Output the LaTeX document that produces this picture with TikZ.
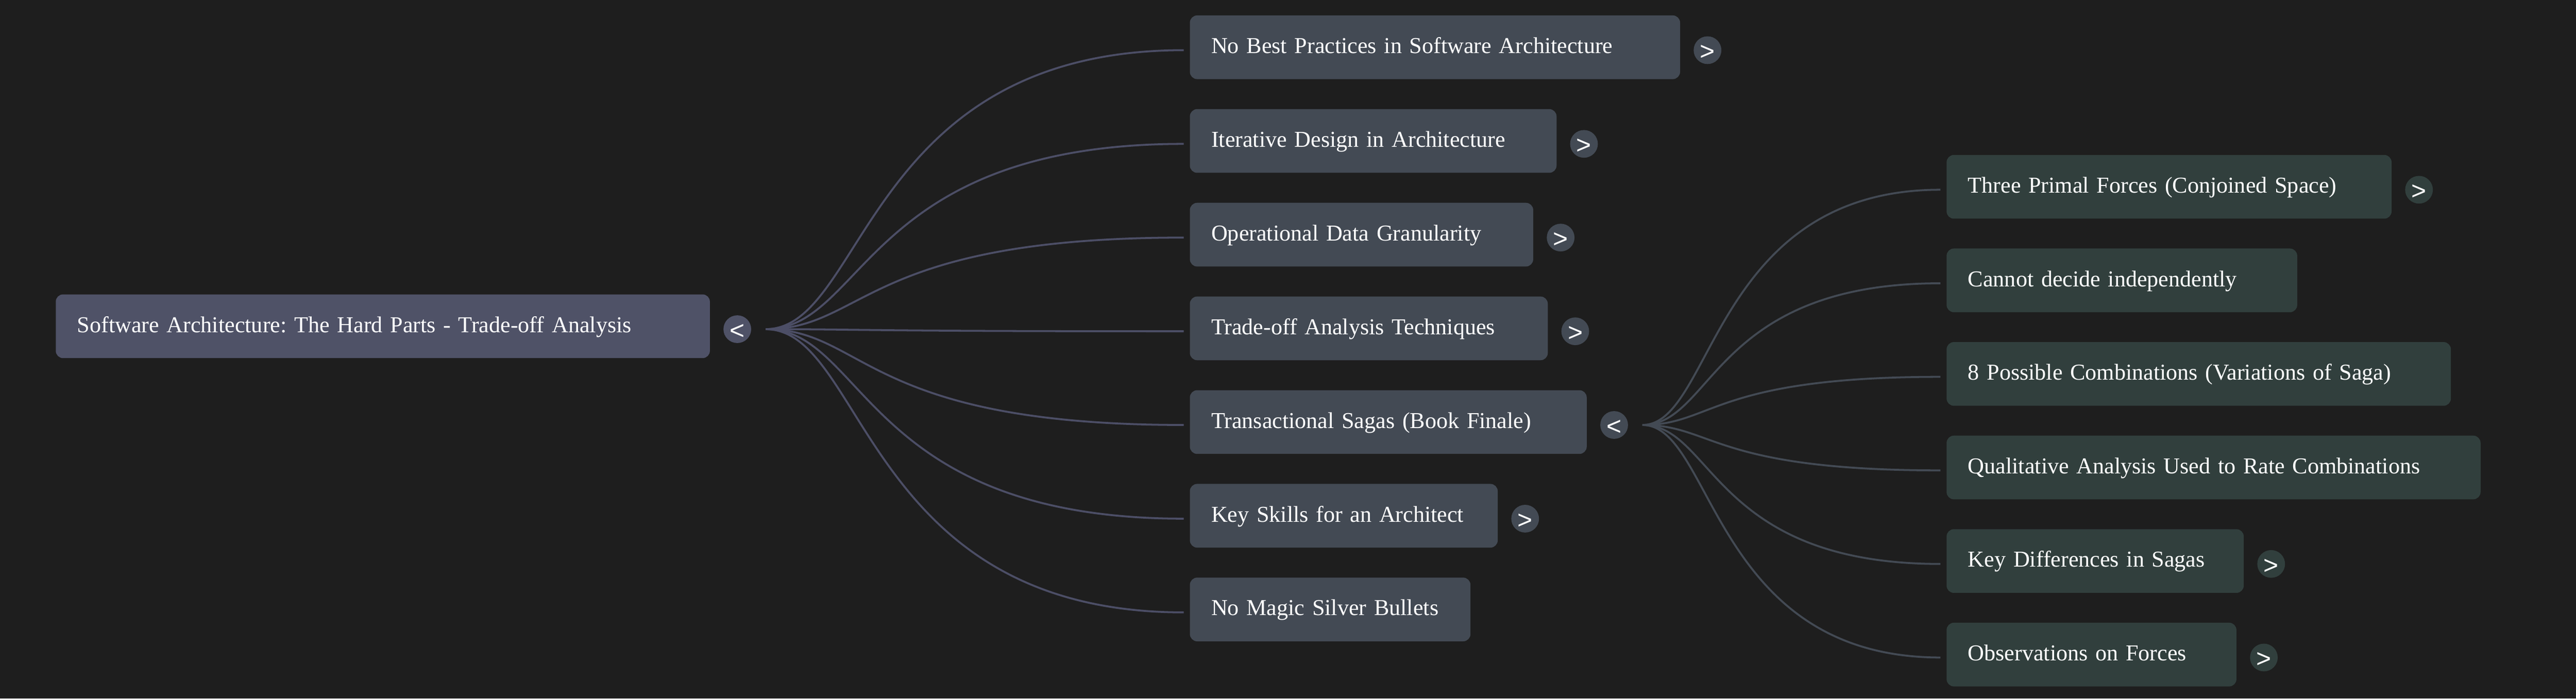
\documentclass[tikz,border=0pt]{standalone}
\usepackage{fontspec}
\setmainfont{Liberation Serif}
\newfontfamily\togfont{Liberation Sans}
\usetikzlibrary{positioning}
\frenchspacing
\definecolor{bgdark}{HTML}{1E1E1E}
\definecolor{rootfill}{HTML}{4F5267}
\definecolor{childfill}{HTML}{434A54}
\definecolor{leaffill}{HTML}{313F3D}
\definecolor{rootedge}{HTML}{4C4E66}
\tikzstyle{block} = [rectangle, rounded corners=0.15cm, text=white,
    font=\fontsize{13.3pt}{16pt}\selectfont, text height=0.25cm, text depth=0cm,
    inner xsep=0.44cm, inner ysep=0cm, minimum height=1.31cm, align=left]
\tikzstyle{rootblock} = [block, fill=rootfill, anchor=west]
\tikzstyle{child} = [block, fill=childfill]
\tikzstyle{leaf} = [block, fill=leaffill]
\tikzstyle{tog} = [circle, text=white, font=\togfont\fontsize{15pt}{15pt}\selectfont,
    inner sep=0pt, minimum size=0.57cm, text height=0.41cm, text depth=0cm, yshift=-0.6mm]
\tikzstyle{link} = [draw=rootedge, line width=0.04cm, shorten >=1.2mm]
\tikzstyle{sublink} = [draw=childfill, line width=0.04cm, shorten >=1.2mm]

\begin{document}
\begin{tikzpicture}
    % Background
    \fill[bgdark] (0,0) rectangle (52.97,-14.37);
    \useasboundingbox (0,0) rectangle (52.97,-14.37);
    % Place nodes
    \node[rootblock, text width=12.57cm] (root) at (1.14,-6.71) {Software Architecture: The Hard Parts - Trade-off Analysis};
    \node[child, anchor=north west, text width=9.20cm] (best) at (24.46,-0.31) {No Best Practices in Software Architecture};
    \node[child, below right=0.603cm and 0cm of best.south west, text width=6.66cm] (iter) {Iterative Design in Architecture};
    \node[child, below right=0.603cm and 0cm of iter.south west, text width=6.18cm] (oper) {Operational Data Granularity};
    \node[child, below right=0.603cm and 0cm of oper.south west, text width=6.48cm] (trade) {Trade-off Analysis Techniques};
    \node[child, below right=0.603cm and 0cm of trade.south west, text width=7.28cm] (sagas) {Transactional Sagas (Book Finale)};
    \node[child, below right=0.603cm and 0cm of sagas.south west, text width=5.45cm] (skills) {Key Skills for an Architect};
    \node[child, below right=0.603cm and 0cm of skills.south west, text width=4.89cm] (magic) {No Magic Silver Bullets};
    \node[leaf, anchor=north west, text width=8.27cm] (forces) at (40.02,-3.18) {Three Primal Forces (Conjoined Space)};
    \node[leaf, below right=0.60cm and 0cm of forces.south west, text width=6.33cm] (indep) {Cannot decide independently};
    \node[leaf, below right=0.60cm and 0cm of indep.south west, text width=9.49cm] (combos) {8 Possible Combinations (Variations of Saga)};
    \node[leaf, below right=0.60cm and 0cm of combos.south west, text width=10.10cm] (rate) {Qualitative Analysis Used to Rate Combinations};
    \node[leaf, below right=0.60cm and 0cm of rate.south west, text width=5.23cm] (diffs) {Key Differences in Sagas};
    \node[leaf, below right=0.60cm and 0cm of diffs.south west, text width=5.08cm] (obs) {Observations on Forces};
    % Toggles
    \node[tog, fill=rootfill, right=0.265cm of root.east] (root-t) {<};
    \node[tog, fill=childfill, right=0.265cm of best.east] (best-t) {>};
    \node[tog, fill=childfill, right=0.265cm of iter.east] (iter-t) {>};
    \node[tog, fill=childfill, right=0.265cm of oper.east] (oper-t) {>};
    \node[tog, fill=childfill, right=0.265cm of trade.east] (trade-t) {>};
    \node[tog, fill=childfill, right=0.265cm of sagas.east] (sagas-t) {<};
    \node[tog, fill=childfill, right=0.265cm of skills.east] (skills-t) {>};
    \node[tog, fill=leaffill, right=0.265cm of forces.east] (forces-t) {>};
    \node[tog, fill=leaffill, right=0.265cm of diffs.east] (diffs-t) {>};
    \node[tog, fill=leaffill, right=0.265cm of obs.east] (obs-t) {>};
    \coordinate[right=0.29cm of root-t] (root-o);
    \coordinate[right=0.29cm of sagas-t] (sagas-o);
    % Draw edges
    \foreach \n in {best,iter,oper,trade,sagas,skills,magic}
        \path[link] (root-o) .. controls +(2.05,0) and +(-6.69,0) .. ([yshift=-0.6mm]\n.west);
    \foreach \n in {forces,indep,combos,rate,diffs,obs}
        \path[sublink] (sagas-o) .. controls +(1.46,0) and +(-4.81,0) .. ([yshift=-0.6mm]\n.west);
\end{tikzpicture}
\end{document}
